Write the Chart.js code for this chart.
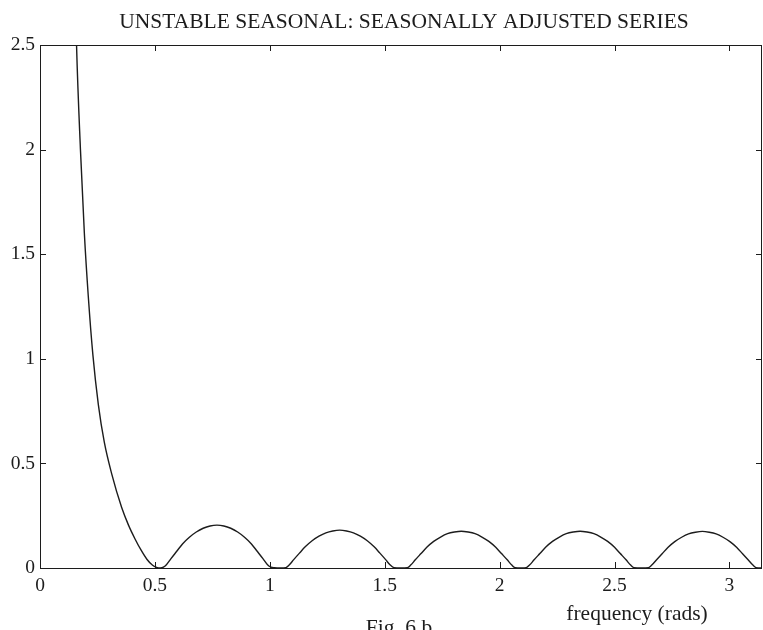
<!DOCTYPE html>
<html>
<head>
<meta charset="utf-8">
<script src="https://cdn.jsdelivr.net/npm/chart.js@4.4.0/dist/chart.umd.min.js"></script>
<style>
  html, body { margin: 0; padding: 0; background: #fff; }
  #wrap { width: 763px; height: 630px; position: relative; }
</style>
</head>
<body>
<div id="wrap"><canvas id="spectrum"></canvas></div>
<script>
// values
const chartTitle = 'UNSTABLE SEASONAL: SEASONALLY ADJUSTED SERIES';
const xAxisLabel = 'frequency (rads)';
const figLabel = 'Fig. 6 b';

const xTicks = [0, 0.5, 1, 1.5, 2, 2.5, 3];
const yTicks = [0, 0.5, 1, 1.5, 2, 2.5];

const freq = [
    0.145, 0.159, 0.176, 0.193, 0.21, 0.23, 0.254, 0.28, 0.312, 0.355, 0.385,
    0.413, 0.44, 0.465, 0.49, 0.51, 0.524,
    0.537, 0.55, 0.57, 0.595, 0.62, 0.65, 0.68, 0.71, 0.74, 0.77, 0.8, 0.83,
    0.86, 0.89, 0.92, 0.945, 0.97, 0.99, 1.005, 1.02, 1.047,
    1.07, 1.084, 1.104, 1.129, 1.154, 1.184, 1.214, 1.244, 1.274, 1.304, 1.334,
    1.364, 1.394, 1.424, 1.454, 1.479, 1.504, 1.524, 1.54, 1.571,
    1.599, 1.613, 1.633, 1.658, 1.683, 1.713, 1.743, 1.773, 1.803, 1.833, 1.863,
    1.893, 1.923, 1.953, 1.983, 2.008, 2.033, 2.053, 2.067, 2.094,
    2.116, 2.13, 2.15, 2.175, 2.2, 2.23, 2.26, 2.29, 2.32, 2.35, 2.38,
    2.41, 2.44, 2.47, 2.5, 2.525, 2.55, 2.57, 2.584, 2.618,
    2.648, 2.662, 2.682, 2.707, 2.732, 2.762, 2.792, 2.822, 2.852, 2.882, 2.912,
    2.942, 2.972, 3.002, 3.032, 3.057, 3.082, 3.102, 3.116, 3.1416
];
const gain = [
    3.2, 2.5, 2.0, 1.6, 1.3, 1.02, 0.78, 0.6, 0.45, 0.29, 0.205,
    0.14, 0.085, 0.042, 0.013, 0.002, 0,
    0.004, 0.016, 0.045, 0.08, 0.115, 0.147, 0.172, 0.19, 0.201, 0.205, 0.201, 0.19,
    0.172, 0.147, 0.115, 0.08, 0.045, 0.016, 0.004, 0.001, 0,
    0.002, 0.014, 0.04, 0.071, 0.101, 0.13, 0.152, 0.168, 0.177, 0.181, 0.177,
    0.168, 0.152, 0.13, 0.101, 0.071, 0.04, 0.014, 0.002, 0,
    0.002, 0.014, 0.039, 0.069, 0.099, 0.127, 0.148, 0.164, 0.172, 0.176, 0.172,
    0.164, 0.148, 0.127, 0.099, 0.069, 0.039, 0.014, 0.002, 0,
    0.002, 0.014, 0.039, 0.069, 0.099, 0.127, 0.148, 0.164, 0.172, 0.176, 0.172,
    0.164, 0.148, 0.127, 0.099, 0.069, 0.039, 0.014, 0.002, 0,
    0.002, 0.014, 0.038, 0.068, 0.098, 0.126, 0.147, 0.163, 0.171, 0.175, 0.171,
    0.163, 0.147, 0.126, 0.098, 0.068, 0.038, 0.014, 0.002, 0
];

const ink = '#1c1c1c';
const serif = '"Liberation Serif", "DejaVu Serif", serif';

// frame with inward ticks on all four sides, plus the printed captions
const framePlugin = {
    id: 'frame',
    afterDraw(chart) {
        const { ctx, chartArea: a, scales } = chart;
        const len = 6;
        ctx.save();
        ctx.strokeStyle = ink;
        ctx.lineWidth = 1;
        ctx.strokeRect(a.left + 0.5, a.top + 0.5, a.right - a.left - 1, a.bottom - a.top);
        ctx.beginPath();
        xTicks.forEach(v => {
            const px = Math.round(scales.x.getPixelForValue(v)) + 0.5;
            ctx.moveTo(px, a.bottom); ctx.lineTo(px, a.bottom - len);
            ctx.moveTo(px, a.top); ctx.lineTo(px, a.top + len);
        });
        yTicks.forEach(v => {
            const py = Math.round(scales.y.getPixelForValue(v)) + 0.5;
            ctx.moveTo(a.left, py); ctx.lineTo(a.left + len, py);
            ctx.moveTo(a.right, py); ctx.lineTo(a.right - len, py);
        });
        ctx.stroke();

        ctx.fillStyle = ink;
        ctx.font = '21.5px ' + serif;
        ctx.textAlign = 'center';
        ctx.textBaseline = 'middle';
        ctx.fillText(chartTitle, 404, 22);
        ctx.fillText(xAxisLabel, 637, 614);
        ctx.textBaseline = 'top';
        ctx.fillText(figLabel, 399, 618);
        ctx.restore();
    }
};

new Chart(document.getElementById('spectrum'), {
    type: 'scatter',
    data: {
        datasets: [{
            data: freq.map((f, i) => ({ x: f, y: gain[i] })),
            showLine: true,
            borderColor: ink,
            borderWidth: 1.4,
            pointRadius: 0,
            cubicInterpolationMode: 'monotone'
        }]
    },
    options: {
        responsive: true,
        maintainAspectRatio: false,
        animation: false,
        layout: { padding: { top: 45, right: 1, left: 0, bottom: 0 } },
        plugins: { legend: { display: false }, tooltip: { enabled: false } },
        scales: {
            x: {
                type: 'linear',
                min: 0,
                max: 3.1416,
                grid: { display: false, drawTicks: false },
                border: { display: false },
                afterBuildTicks: s => { s.ticks = xTicks.map(v => ({ value: v })); },
                afterFit: s => { s.height = 62; },
                ticks: {
                    includeBounds: false,
                    autoSkip: false,
                    maxRotation: 0,
                    padding: 6,
                    color: ink,
                    font: { family: serif, size: 19.5 },
                    callback: v => String(v)
                }
            },
            y: {
                min: 0,
                max: 2.5,
                grid: { display: false, drawTicks: false },
                border: { display: false },
                afterBuildTicks: s => { s.ticks = yTicks.map(v => ({ value: v })); },
                afterFit: s => { s.width = 40; },
                ticks: {
                    includeBounds: false,
                    autoSkip: false,
                    padding: 5,
                    color: ink,
                    font: { family: serif, size: 19.5 },
                    callback: v => String(v)
                }
            }
        }
    },
    plugins: [framePlugin]
});
</script>
</body>
</html>
